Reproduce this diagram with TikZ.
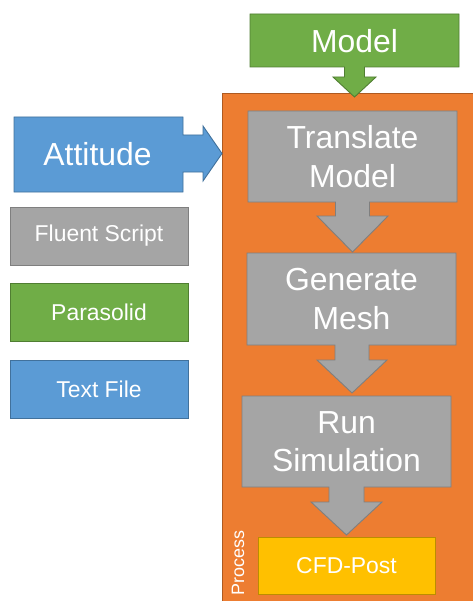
\documentclass[tikz,border=0pt]{standalone}
\usepackage{fontspec}
\setmainfont{Liberation Sans}
\definecolor{cblue}{HTML}{5B9BD5}
\definecolor{cblueline}{HTML}{41719C}
\definecolor{cgreen}{HTML}{70AD47}
\definecolor{cgreenline}{HTML}{507E32}
\definecolor{cgray}{HTML}{A5A5A5}
\definecolor{cgrayline}{HTML}{7F7F7F}
\definecolor{corange}{HTML}{ED7D31}
\definecolor{corangeline}{HTML}{AE5A21}
\definecolor{cgold}{HTML}{FFC000}
\definecolor{cgoldline}{HTML}{BC8C00}
\tikzset{
  shapeline/.style={line width=0.9bp, line join=miter},
  bigtext/.style={text=white, align=center, font=\fontsize{32}{38.4}\selectfont, inner sep=0pt},
  sidebox/.style={shapeline, minimum width=178bp, minimum height=58bp, inner sep=0pt,
    text=white, font=\fontsize{23}{27}\selectfont},
}
\begin{document}
\begin{tikzpicture}[x=1bp, y=-1bp]
\useasboundingbox (0,0) rectangle (473,601);

% process frame
\path[shapeline, fill=corange, draw=corangeline] (222,93) rectangle (480,610);

% model input callout
\path[shapeline, fill=cgreen, draw=cgreenline]
  (250,14) -- (459,14) -- (459,67) -- (364.5,67) -- (364.5,77) -- (376,77)
  -- (354.5,97) -- (333,77) -- (344.5,77) -- (344.5,67) -- (250,67) -- cycle;
\node[bigtext] (model) at (354.5,41.5) {Model};

% attitude input callout
\path[shapeline, fill=cblue, draw=cblueline]
  (14,117) -- (183,117) -- (183,135) -- (203,135) -- (203,126)
  -- (222,153.5) -- (203,181) -- (203,172) -- (183,172) -- (183,192) -- (14,192) -- cycle;
\node[bigtext] (attitude) at (97.5,154.5) {Attitude};

% process steps
\path[shapeline, fill=cgray, draw=cgrayline]
  (248,111) -- (457,111) -- (457,202) -- (369.5,202) -- (369.5,216) -- (388,216)
  -- (352.5,252) -- (317,216) -- (335.5,216) -- (335.5,202) -- (248,202) -- cycle;
\node[bigtext] (translate) at (352.5,156.5) {Translate\\Model};

\path[shapeline, fill=cgray, draw=cgrayline]
  (247,253) -- (456,253) -- (456,345) -- (369,345) -- (369,360) -- (387,360)
  -- (352,393) -- (317,360) -- (335,360) -- (335,345) -- (247,345) -- cycle;
\node[bigtext] (mesh) at (351.5,299) {Generate\\Mesh};

\path[shapeline, fill=cgray, draw=cgrayline]
  (242,396) -- (451,396) -- (451,487) -- (364,487) -- (364,502) -- (382,502)
  -- (346.5,535) -- (311,502) -- (329,502) -- (329,487) -- (242,487) -- cycle;
\node[bigtext] (simulation) at (346.5,441.5) {Run\\Simulation};

\node[sidebox, fill=cgold, draw=cgoldline, minimum width=177bp, minimum height=57bp]
  (post) at (346.5,565.5) {CFD-Post};

\node[text=white, rotate=90, inner sep=0pt, font=\fontsize{18}{20}\selectfont]
  (process) at (238,563) {Process};

% legend boxes
\node[sidebox, fill=cgray, draw=cgrayline] (fluent) at (99,236) {Fluent Script};
\node[sidebox, fill=cgreen, draw=cgreenline] (parasolid) at (99,312) {Parasolid};
\node[sidebox, fill=cblue, draw=cblueline] (textfile) at (99,389) {Text File};
\end{tikzpicture}
\end{document}
